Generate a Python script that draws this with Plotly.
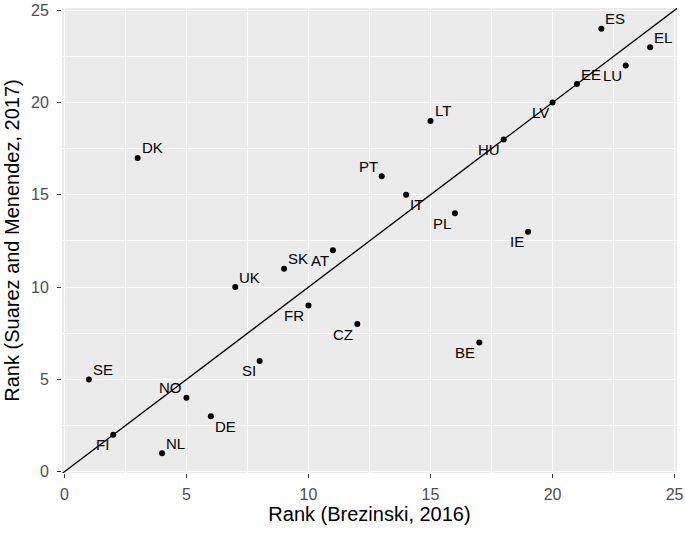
import plotly.graph_objects as go

countries = ["ES", "EL", "LU", "EE", "LV", "HU", "LT", "PT", "IT", "PL", "IE", "AT",
             "SK", "UK", "FR", "CZ", "BE", "SI", "SE", "NO", "DE", "FI", "NL", "DK"]
rank_brzezinski_2016 = [22, 24, 23, 21, 20, 18, 15, 13, 14, 16, 19, 11,
                        9, 7, 10, 12, 17, 8, 1, 5, 6, 2, 4, 3]
rank_suarez_2017 = [24, 23, 22, 21, 20, 18, 19, 16, 15, 14, 13, 12,
                    11, 10, 9, 8, 7, 6, 5, 4, 3, 2, 1, 17]
# label placement (style): vertical side, horizontal side
label_pos = ["tr", "tr", "bl", "tr", "bl", "bl", "tr", "tl", "br", "bl", "bl", "bl",
             "tr", "tr", "bl", "bl", "bl", "bl", "tr", "tl", "br", "bl", "tr", "tr"]
ticks = [0, 5, 10, 15, 20, 25]
line_ends = [-0.1, 25.1]

FONT = "Liberation Sans, Arial, sans-serif"

fig = go.Figure()
fig.add_trace(go.Scatter(x=line_ends, y=line_ends, mode="lines",
                         line=dict(color="black", width=1.3), hoverinfo="skip"))
fig.add_trace(go.Scatter(x=rank_brzezinski_2016, y=rank_suarez_2017, mode="markers",
                         marker=dict(color="black", size=6), text=countries))

for c, x, y, p in zip(countries, rank_brzezinski_2016, rank_suarez_2017, label_pos):
    right = p[1] == "r"
    top = p[0] == "t"
    fig.add_annotation(x=x, y=y, text=c, showarrow=False,
                       xanchor="left" if right else "right", yanchor="middle",
                       xshift=2 if right else -2, yshift=10 if top else -10,
                       font=dict(family=FONT, size=15, color="black"))

axis_common = dict(
    tickvals=ticks, ticktext=[str(t) for t in ticks],
    showgrid=True, gridcolor="white", gridwidth=1.1,
    minor=dict(showgrid=True, gridcolor="white", gridwidth=0.55, dtick=2.5),
    zeroline=False, showline=False, automargin=False,
    ticks="outside", ticklen=4, tickcolor="#333333", tickwidth=1.1,
    tickfont=dict(family=FONT, size=16, color="#4D4D4D"),
)
fig.update_xaxes(range=[-0.1, 25.1], ticklabelstandoff=3,
                 title=dict(text="Rank (Brezinski, 2016)", standoff=3,
                            font=dict(family=FONT, size=20, color="black")),
                 **axis_common)
fig.update_yaxes(range=[-0.07, 25.12], ticklabelstandoff=5,
                 title=dict(text="Rank (Suarez and Menendez, 2017)", standoff=6,
                            font=dict(family=FONT, size=20, color="black")),
                 **axis_common)

fig.update_layout(width=685, height=533, showlegend=False,
                  plot_bgcolor="#EBEBEB", paper_bgcolor="white",
                  margin=dict(l=62, r=8, t=8, b=60))
fig.write_html("out.html", config={"displayModeBar": False},
               post_script="document.body.style.margin='0';")
